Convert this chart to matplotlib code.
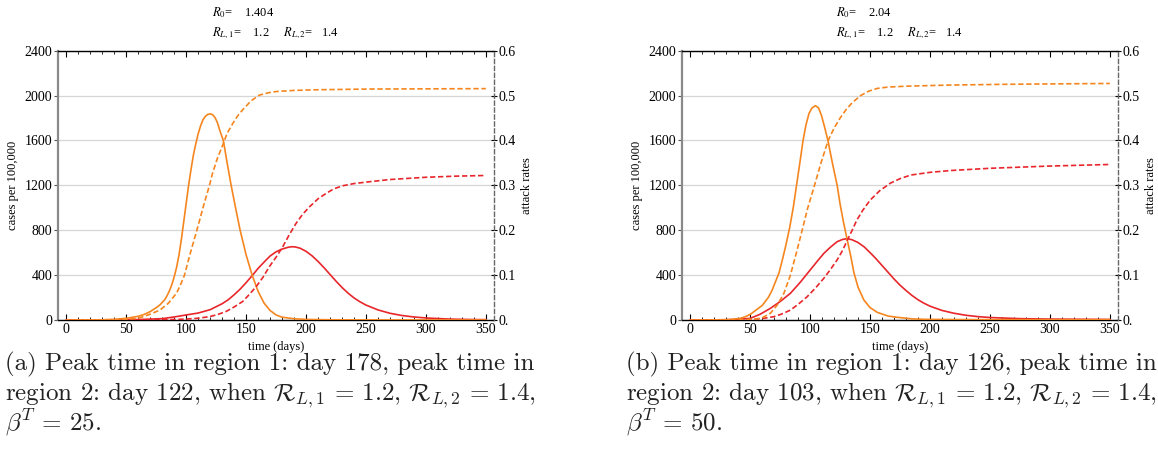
import matplotlib
matplotlib.use("Agg")
import matplotlib.pyplot as plt
from matplotlib.ticker import MultipleLocator, FixedLocator

plt.rcParams['font.family'] = ['Liberation Serif', 'DejaVu Serif']
plt.rcParams['mathtext.fontset'] = 'stix'

ORANGE = '#F5861F'
RED = '#E8262B'

# ---------------- Panel (a) ----------------
a_inc2_days = [0, 20, 30, 40, 50, 60, 65, 70, 75, 78, 82, 84, 86, 88, 90, 92, 94, 96, 98, 100, 102,
               104, 106, 108, 110, 112, 114, 116, 118, 120, 122, 124, 126, 128, 131, 134, 137.5,
               141, 145, 150, 155, 160, 165, 170, 175, 180, 190, 200, 220, 250, 350]
a_inc2 = [0, 1, 2, 6, 15, 33, 50, 75, 110, 134, 180, 215, 260, 315, 385, 470, 580, 720, 880, 1040, 1200,
          1340, 1470, 1570, 1660, 1730, 1785, 1815, 1832, 1837, 1830, 1805, 1760, 1690, 1600, 1410, 1200,
          1010, 800, 580, 400, 255, 150, 85, 45, 25, 11, 5, 2, 1, 0]

a_ar2_days = [0, 40, 50, 60, 64, 70, 78, 85, 92, 95.5, 98.6, 103, 108.9, 114, 119.4, 122, 126, 130.5,
              134, 138.9, 143, 147, 154, 161, 168, 175, 190, 210, 252.8, 300, 350]
a_ar2 = [0, 0.0005, 0.0015, 0.004, 0.0074, 0.013, 0.022, 0.037, 0.06, 0.08, 0.1, 0.145, 0.2, 0.25,
         0.3, 0.327, 0.36, 0.39, 0.415, 0.438, 0.455, 0.468, 0.488, 0.501, 0.506, 0.509, 0.5115,
         0.513, 0.5146, 0.515, 0.5155]

a_inc1_days = [0, 40, 60, 80, 91.7, 100, 110, 120, 130, 135, 140, 145, 150, 155.5, 160, 166.7, 170,
               175, 180, 185, 188, 191, 195, 200, 205, 210, 215, 220, 225, 230, 235, 240, 245,
               250, 260, 270, 280, 290, 300, 320, 340, 350]
a_inc1 = [0, 1, 4, 12, 30, 45, 62, 92, 145, 180, 225, 275, 333, 401, 460, 535, 570,
          608, 632, 648, 653, 651, 640, 612, 572, 522, 466, 406, 346, 290, 240, 197, 162,
          133, 90, 60, 40, 27, 18, 8, 4, 3]

a_ar1_days = [0, 80, 100, 110, 119.4, 126, 133.3, 140, 147, 152, 158.3, 164, 169.4, 175, 180.5,
              186, 191.6, 197, 202.8, 210, 216.7, 223, 230.5, 240, 252.8, 270, 300, 325, 350]
a_ar1 = [0, 0.0005, 0.002, 0.004, 0.0074, 0.012, 0.019, 0.029, 0.041, 0.055, 0.074, 0.095, 0.119,
         0.14, 0.163, 0.19, 0.215, 0.235, 0.252, 0.27, 0.282, 0.292, 0.299, 0.304, 0.308, 0.313,
         0.318, 0.3205, 0.322]

# ---------------- Panel (b) ----------------
b_inc2_days = [0, 20, 30, 35, 41.8, 46, 50, 55, 60, 65, 68, 71, 74, 77, 80, 83, 86,
               88.6, 91.5, 94.1, 96.5, 99, 101.5, 104.4, 107, 109.5, 112, 114.7, 118.5, 122.5,
               125, 128, 131, 134, 136.5, 140, 144.8, 150, 156, 165, 172.6, 185, 195, 220, 250,
               300, 350]
b_inc2 = [0, 1, 3, 6, 15, 30, 50, 90, 130, 200, 260, 340, 420, 545, 680, 830, 1010,
          1200, 1410, 1604, 1740, 1840, 1890, 1910, 1890, 1820, 1720, 1604, 1400, 1200,
          1030, 860, 710, 560, 420, 290, 178, 110, 68, 35, 24, 10, 6, 4, 3,
          2, 2]

b_ar2_days = [0, 40, 45, 55, 60, 66.8, 72.4, 78, 83.5, 88, 93.3, 98, 103.6, 109, 115, 120, 125,
              130, 135, 142, 149, 156, 165, 181, 217, 260, 300, 350]
b_ar2 = [0, 0.0005, 0.001, 0.0025, 0.005, 0.015, 0.033, 0.059, 0.1, 0.145, 0.2, 0.25, 0.3, 0.35,
         0.4, 0.428, 0.45, 0.469, 0.484, 0.5, 0.51, 0.516, 0.519, 0.521, 0.5235, 0.525, 0.526, 0.527]

b_inc1_days = [0, 30, 40, 50, 58, 66.8, 75, 83.5, 92, 100, 106, 111.4, 117, 122.5, 127, 130.9,
               135, 140, 145, 150, 155, 160, 165, 170, 175, 180, 185, 190, 195, 200, 210, 220,
               230, 240, 250, 275, 300, 350]
b_inc1 = [0, 2, 6, 15, 50, 104, 165, 238, 340, 446, 525, 594, 650, 698, 718, 725,
          715, 690, 652, 600, 545, 485, 425, 365, 310, 262, 218, 180, 149, 123, 85, 60,
          42, 30, 22, 12, 8, 5]

b_ar1_days = [0, 40, 55, 62, 69.6, 76, 83.5, 90, 97.5, 104, 111.4, 117, 122.5, 127, 131, 135,
              139, 144, 150, 158, 167, 175, 184, 200, 217, 250, 300, 350]
b_ar1 = [0, 0.0005, 0.002, 0.004, 0.0074, 0.013, 0.022, 0.035, 0.052, 0.07, 0.093, 0.113, 0.134,
         0.155, 0.178, 0.2, 0.223, 0.245, 0.267, 0.288, 0.305, 0.315, 0.323, 0.329, 0.333, 0.338,
         0.343, 0.3465]

# ---------------- labels ----------------
left_ticks = [0, 400, 800, 1200, 1600, 2000, 2400]
right_ticks = [0.0, 0.1, 0.2, 0.3, 0.4, 0.5, 0.6]
right_tick_labels = ['0.', '0.1', '0.2', '0.3', '0.4', '0.5', '0.6']
x_ticks = [0, 50, 100, 150, 200, 250, 300, 350]

titles = [r"$R_0$=    1.404" + "\n" + r"$R_{L,1}$=    1.2     $R_{L,2}$=   1.4",
          r"$R_0$=    2.04" + "\n" + r"$R_{L,1}$=    1.2     $R_{L,2}$=   1.4"]

captions_a = [r"(a) Peak time in region 1: day 178, peak time in",
              r"region 2: day 122, when $\mathcal{R}_{L,1}\,=\,1.2$, $\mathcal{R}_{L,2}\,=\,1.4$,",
              r"$\beta^T\,=\,25$."]
captions_b = [r"(b) Peak time in region 1: day 126, peak time in",
              r"region 2: day 103, when $\mathcal{R}_{L,1}\,=\,1.2$, $\mathcal{R}_{L,2}\,=\,1.4$,",
              r"$\beta^T\,=\,50$."]

W, H = 1158, 459
fig = plt.figure(figsize=(W / 100, H / 100), dpi=100)


def panel(left_px, data, title):
    rect = [left_px / W, (H - 320) / H, 436.3 / W, 269.3 / H]
    ax = fig.add_axes(rect)
    ax2 = ax.twinx()
    (i1d, i1, i2d, i2, r1d, r1, r2d, r2) = data
    ax.plot(i1d, i1, color=RED, lw=1.2, zorder=3)
    ax.plot(i2d, i2, color=ORANGE, lw=1.2, zorder=3)
    ax2.plot(r1d, r1, color=RED, lw=1.2, ls=(0, (3.2, 1.6)))
    ax2.plot(r2d, r2, color=ORANGE, lw=1.2, ls=(0, (3.2, 1.6)))

    ax.set_xlim(-7.2, 356.8)
    ax.set_ylim(0, 2400)
    ax2.set_ylim(0, 0.6)

    ax.set_xticks(x_ticks)
    ax.xaxis.set_minor_locator(MultipleLocator(10))
    ax.set_yticks(left_ticks)
    ax.set_yticklabels([str(t) for t in left_ticks])
    ax2.yaxis.set_major_locator(FixedLocator(right_ticks))
    ax2.set_yticklabels(right_tick_labels)

    ax.set_axisbelow(True)
    ax.yaxis.grid(True, color='#d6d6d6', lw=0.9)

    ax.tick_params(axis='x', which='major', direction='in', top=True, bottom=True,
                   length=4, width=0.8, labelsize=10, pad=2)
    ax.tick_params(axis='x', which='minor', direction='in', top=True, bottom=True,
                   length=2, width=0.6)
    ax.tick_params(axis='y', which='major', direction='out', length=3, width=0.8,
                   color='#555555', labelsize=10, pad=1)
    ax2.tick_params(axis='y', which='major', direction='inout', length=4, width=0.8,
                    labelsize=10, pad=1)

    for s in ('top', 'bottom'):
        ax.spines[s].set_color('black')
        ax.spines[s].set_linewidth(1.0)
    ax.spines['left'].set_color('#8a8a8a')
    ax.spines['left'].set_linewidth(1.6)
    ax.spines['right'].set_visible(False)
    for s in ('top', 'bottom', 'left'):
        ax2.spines[s].set_visible(False)
    ax2.spines['right'].set_color('#666666')
    ax2.spines['right'].set_linewidth(1.0)
    ax2.spines['right'].set_linestyle((0, (3, 2)))

    ax.set_xlabel('time (days)', fontsize=9, labelpad=4)
    ax.set_ylabel('cases per 100,000', fontsize=9, labelpad=4)
    ax2.set_ylabel('attack rates', fontsize=9, labelpad=4)

    ax.text(0.5, 1.035, title, transform=ax.transAxes, ha='center', va='bottom',
            multialignment='left', fontsize=9, linespacing=1.5)
    return ax


panel(57.7, (a_inc1_days, a_inc1, a_inc2_days, a_inc2, a_ar1_days, a_ar1, a_ar2_days, a_ar2), titles[0])
panel(681.7, (b_inc1_days, b_inc1, b_inc2_days, b_inc2, b_ar1_days, b_ar1, b_ar2_days, b_ar2), titles[1])

cap_y = [370, 400, 431]
for xs, caps in ((5, captions_a), (626, captions_b)):
    for yy, line in zip(cap_y, caps):
        fig.text(xs / W, 1 - yy / H, line, ha='left', va='baseline', fontsize=18,
                 family='cmr10', math_fontfamily='cm', color='#222222')

fig.savefig('out.png', dpi=100)
